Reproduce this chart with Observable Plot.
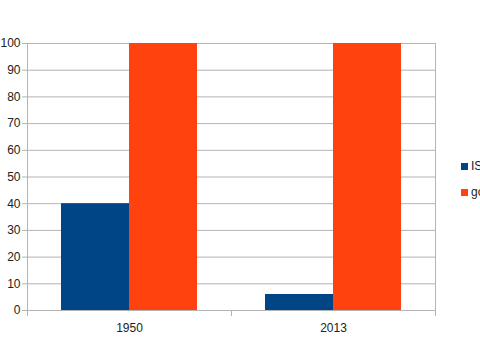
<!DOCTYPE html>
<html>
<head>
<meta charset="utf-8">
<script src="https://cdn.jsdelivr.net/npm/d3@7"></script>
<script src="https://cdn.jsdelivr.net/npm/@observablehq/plot@0.6"></script>
<style>
  html, body { margin: 0; padding: 0; background: #fff; overflow: hidden; }
  #wrap { position: relative; width: 480px; height: 360px; font-family: "Liberation Sans", Arial, sans-serif; }
  .leg { position: absolute; left: 461px; display: flex; align-items: center; font-size: 12px; color: #222; white-space: nowrap; }
  .leg span.sw { display: inline-block; width: 7px; height: 7px; margin-right: 3px; }
</style>
</head>
<body>
<div id="wrap"></div>
<script>
const categories = ["1950", "2013"];
const seriesNames = ["IS", "go"];
const seriesColors = ["#004586", "#ff420e"];
const valuesIS = [40, 6];
const valuesGo = [100, 100];
const yTicks = [0, 10, 20, 30, 40, 50, 60, 70, 80, 90, 100];

const seriesValues = [valuesIS, valuesGo];
const barWidth = 1 / 3;
const barOffset = (1 - 2 * barWidth) / 2;
const data = [];
categories.forEach((c, i) => {
  seriesNames.forEach((s, j) => {
    data.push({
      category: c,
      series: s,
      value: seriesValues[j][i],
      x1: i + barOffset + j * barWidth,
      x2: i + barOffset + (j + 1) * barWidth
    });
  });
});

const chart = Plot.plot({
  width: 480,
  height: 360,
  marginLeft: 27,
  marginRight: 45,
  marginTop: 43,
  marginBottom: 50,
  style: { fontFamily: "Liberation Sans, Arial, sans-serif", fontSize: "12px", color: "#222", background: "#fff" },
  x: { type: "linear", domain: [0, categories.length] },
  y: { domain: [0, 100] },
  color: { domain: seriesNames, range: seriesColors },
  marks: [
    Plot.gridY(yTicks, { stroke: "#b3b3b3", strokeOpacity: 1 }),
    Plot.rectY(data, { x1: "x1", x2: "x2", y: "value", fill: "series" }),
    Plot.frame({ stroke: "#b3b3b3", anchor: "left" }),
    Plot.frame({ stroke: "#b3b3b3", anchor: "right" }),
    Plot.axisY(yTicks, { tickSize: 5, tickPadding: 2, stroke: "#b3b3b3", fill: "#222", fontSize: 12, label: null }),
    Plot.axisX(d3.range(categories.length + 1), { tickSize: 6, tickFormat: () => "", stroke: "#b3b3b3", label: null }),
    Plot.axisX(categories.map((c, i) => i + 0.5), { tickSize: 0, tickPadding: 13, tickFormat: (d) => categories[Math.floor(d)], fill: "#222", fontSize: 12, label: null })
  ]
});

const wrap = document.getElementById("wrap");
wrap.appendChild(chart);
seriesNames.forEach((s, j) => {
  const d = document.createElement("div");
  d.className = "leg";
  d.style.top = (159 + j * 26) + "px";
  d.innerHTML = `<span class="sw" style="background:${seriesColors[j]}"></span>${s}`;
  wrap.appendChild(d);
});
</script>
</body>
</html>
